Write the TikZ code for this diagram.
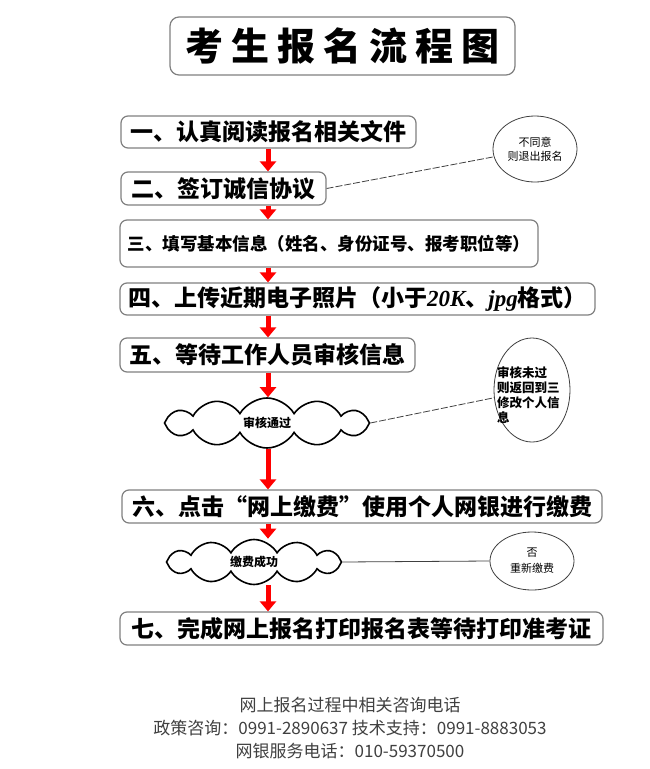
\documentclass[tikz,border=0pt]{standalone}
\usepackage{fontspec}
\newfontfamily\cjk{Noto Sans CJK SC}
\newfontfamily\latinit{Liberation Serif}
\usetikzlibrary{shapes.geometric}
\usetikzlibrary{shapes.symbols}
\usetikzlibrary{arrows.meta}

\begin{document}
\begin{tikzpicture}[every node/.style={inner sep=0pt,black},
	stepbox/.style={rectangle, rounded corners=7pt, draw=gray, line width=1.2pt, fill=white,
		font=\cjk\bfseries\fontsize{23pt}{26pt}\selectfont},
	notebox/.style={ellipse, draw=darkgray, line width=0.8pt, align=center,
		font=\cjk\fontsize{11pt}{14pt}\selectfont},
	passbox/.style={cloud, cloud puffs=12, cloud puff arc=120, cloud ignores aspect,
		draw=black, line width=1.6pt, fill=white, font=\cjk\bfseries\fontsize{12pt}{14pt}\selectfont},
	flow/.style={draw=red, line width=5pt, -{Triangle[length=10pt,width=16pt]}},
	link/.style={draw=darkgray, line width=0.8pt}
]%flow arrows all run down x=268
\useasboundingbox[fill=white] (0pt,0pt) rectangle (650pt,-769pt);
\coordinate (spine) at (268pt,0pt);
\node (title) [rectangle, rounded corners=9pt, draw=gray, line width=1.2pt, minimum width=345pt, minimum height=58pt,
	font=\cjk\bfseries\fontsize{38pt}{40pt}\selectfont] at (342.5pt,-46pt)
	{考\hspace{8pt}生\hspace{8pt}报\hspace{8pt}名\hspace{8pt}流\hspace{8pt}程\hspace{8pt}图};
\node (step1) [stepbox, minimum width=295pt, minimum height=32pt] at (268.5pt,-132pt) {一、认真阅读报名相关文件};
\node (step2) [stepbox, minimum width=205pt, minimum height=33pt] at (223.5pt,-188.5pt) {二、签订诚信协议};
\node (step3) [stepbox, minimum width=418pt, minimum height=47pt, font=\cjk\bfseries\fontsize{17.5pt}{20pt}\selectfont]
	at (329pt,-243.5pt) {三、填写基本信息（姓名、身份证号、报考职位等）};
\node (step4) [stepbox, minimum width=475pt, minimum height=32pt] at (357.5pt,-299pt)
	{四、上传近期电子照片（小于{\latinit\itshape 20K}、{\latinit\itshape jpg}格式）};
\node (step5) [stepbox, minimum width=295pt, minimum height=34pt] at (267.5pt,-355pt) {五、等待工作人员审核信息};
\node (check) [passbox, minimum width=205pt, minimum height=50pt] at (267pt,-423pt) {审核通过};
\node (step6) [stepbox, minimum width=480pt, minimum height=33pt] at (362pt,-506.5pt) {六、点击“网上缴费”使用个人网银进行缴费};
\node (paid) [passbox, minimum width=175pt, minimum height=45pt] at (254pt,-562pt) {缴费成功};
\node (step7) [stepbox, minimum width=483pt, minimum height=33pt] at (361.5pt,-628.5pt) {七、完成网上报名打印报名表等待打印准考证};
\node (quit) [notebox, minimum width=84pt, minimum height=66pt] at (535pt,-149pt) {不同意\\则退出报名};
\node (back) [notebox, minimum width=76pt, minimum height=104pt] at (532pt,-390pt) {};
\node (backtxt) [anchor=west, align=left, font=\cjk\bfseries\fontsize{12.5pt}{15pt}\selectfont] at (497pt,-395pt)
	{审核未过\\则返回到三\\修改个人信\\息};
\node (repay) [notebox, minimum width=84pt, minimum height=58pt, font=\cjk\fontsize{11pt}{16pt}\selectfont]
	at (532pt,-561pt) {否\\重新缴费};
\node (hotline) [align=center, text=darkgray, font=\cjk\fontsize{17pt}{23pt}\selectfont] at (350pt,-728pt)
	{网上报名过程中相关咨询电话\\政策咨询：0991-2890637 技术支持：0991-8883053\\网银服务电话：010-59370500};
\path
(step1.south -| spine) edge[flow] (step2.north -| spine)
(step2.south -| spine) edge[flow] (step3.north -| spine)
(step3.south -| spine) edge[flow] (step4.north -| spine)
(step4.south -| spine) edge[flow] (step5.north -| spine)
(step5.south -| spine) edge[flow] (check.north -| spine)
(check.south -| spine) edge[flow] (step6.north -| spine)
(step6.south -| spine) edge[flow] (paid.north -| spine)
(paid.south -| spine) edge[flow] (step7.north -| spine);
\path
(step2.east) edge[link, dash pattern=on 7pt off 2pt] (quit)
(check.east) edge[link, dash pattern=on 7pt off 2pt] (back)
(paid.east) edge[link] (repay.west);
\end{tikzpicture}
\end{document}
